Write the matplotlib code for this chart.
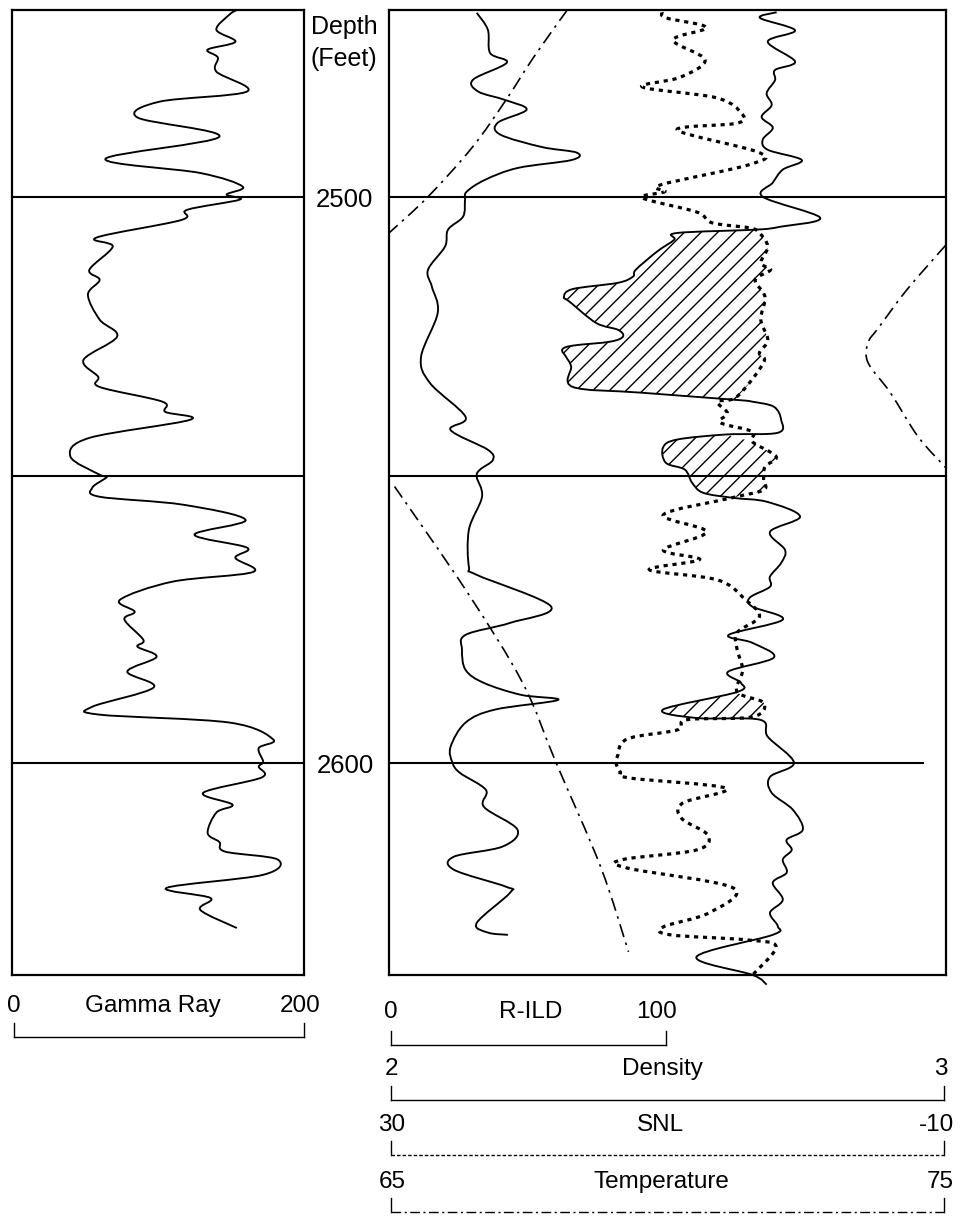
import matplotlib
matplotlib.use("Agg")
import matplotlib.pyplot as plt
from matplotlib.path import Path
from matplotlib.patches import PathPatch

plt.rcParams['font.family'] = ['Liberation Sans', 'DejaVu Sans']
plt.rcParams['hatch.linewidth'] = 1.0

# ---------------- data ----------------
depth_range = (2467.0, 2637.5)          # top, bottom (feet)
depth_markers = [2500, 2549.3, 2600]
depth_tick_labels = {2500: '2500', 2600: '2600'}

gr_scale = (0, 200)
ild_scale = (0, 100)
dens_scale = (2, 3)
snl_scale = (30, -10)
temp_scale = (65, 75)

gr_depth = [2467.0, 2467.8, 2470.5, 2472.6, 2474.0, 2475.4, 2477.9, 2481.4, 2483.2, 2486.0,
            2489.4, 2493.3, 2495.8, 2498.2, 2499.6, 2500.5, 2502.3, 2504.1, 2507.2, 2508.8,
            2512.9, 2514.7, 2517.3, 2521.7, 2524.7, 2528.8, 2531.8, 2533.6, 2536.2, 2538.0,
            2539.4, 2542.6, 2545.9, 2549.1, 2549.5, 2551.4, 2553.0, 2554.4, 2557.1, 2559.7,
            2562.0, 2563.8, 2566.3, 2568.0, 2571.2, 2573.3, 2574.7, 2578.3, 2579.5, 2581.3,
            2583.9, 2586.7, 2590.1, 2591.5, 2592.9, 2595.9, 2597.4, 2599.8, 2600.7, 2602.6,
            2605.3, 2607.4, 2608.8, 2612.4, 2614.0, 2615.7, 2617.1, 2619.8, 2622.1, 2623.9,
            2626.0, 2629.2]
gr_value = [154, 149, 140, 153, 134, 141, 140, 161, 101, 86,
            142, 64, 129, 158, 147, 156, 120, 116, 58, 69,
            53, 60, 52, 60, 72, 49, 59, 60, 103, 105,
            122, 53, 40, 60, 65, 55, 60, 117, 160, 125,
            161, 153, 165, 110, 74, 84, 77, 90, 86, 99,
            79, 97, 55, 60, 149, 179, 169, 172, 169, 171,
            131, 151, 140, 134, 142, 146, 182, 172, 106, 136,
            129, 154]

ild_depth = [2467.5, 2470.5, 2474.6, 2476.3, 2479.3, 2481.4, 2482.9, 2484.6, 2486.9, 2489.0,
             2491.2, 2492.2, 2493.5, 2494.9, 2497.0, 2499.1, 2500.5, 2503.5, 2505.8, 2508.8,
             2512.9, 2515.9, 2520.5, 2528.3, 2532.9, 2538.9, 2541.2, 2544.7, 2546.5, 2548.2,
             2549.5, 2553.0, 2558.8, 2565.4, 2566.8, 2572.4, 2575.3, 2577.4, 2580.0, 2583.6,
             2585.9, 2588.0, 2588.9, 2590.6, 2592.9, 2597.2, 2600.0, 2601.8, 2604.8, 2607.8,
             2611.8, 2614.8, 2616.6, 2618.9, 2621.9, 2623.0, 2628.3, 2630.0, 2630.4]
ild_value = [31.5, 35.5, 36.3, 42.3, 30.2, 32.0, 41.7, 49.4, 39.1, 39.9,
             54.8, 67.4, 65.6, 46.3, 34.5, 27.9, 27.3, 26.6, 21.2, 20.1,
             14.0, 15.4, 17.5, 11.5, 14.7, 27.5, 22.1, 35.5, 37.3, 32.7,
             31.5, 33.4, 28.7, 28.7, 31.5, 58.2, 43.4, 27.5, 26.2, 27.5,
             34.1, 47.4, 60.7, 38.1, 27.5, 22.1, 22.8, 25.5, 34.8, 34.1,
             46.1, 40.8, 23.3, 23.3, 42.0, 43.4, 31.5, 35.5, 42.7]

dens_depth = [2467.4, 2468.4, 2470.6, 2472.6, 2476.1, 2477.6, 2479.4, 2481.7, 2483.8, 2485.9,
              2487.8, 2489.9, 2491.7, 2493.5, 2495.2, 2497.5, 2500.0, 2503.7, 2505.3, 2505.8,
              2506.4, 2507.6, 2509.7, 2512.9, 2514.1, 2515.2, 2516.3, 2517.7, 2518.6, 2522.3,
              2523.5, 2524.7, 2525.6, 2526.3, 2527.0, 2528.3, 2530.0, 2533.6, 2534.6, 2535.9,
              2536.2, 2537.1, 2539.4, 2541.7, 2542.0, 2542.9, 2544.3, 2547.0, 2548.2, 2550.5,
              2552.3, 2553.2, 2553.9, 2556.5, 2559.2, 2562.4, 2564.7, 2567.1, 2568.9, 2570.8,
              2572.4, 2574.7, 2577.4, 2578.8, 2581.4, 2583.9, 2585.9, 2587.5, 2590.6, 2592.1,
              2592.4, 2595.4, 2600.0, 2602.5, 2605.3, 2608.3, 2611.8, 2613.6, 2615.4, 2617.1,
              2619.4, 2621.2, 2624.2, 2626.5, 2628.9, 2630.4, 2634.3, 2637.5, 2639.2]
dens_value = [2.696, 2.666, 2.729, 2.680, 2.729, 2.693, 2.693, 2.678, 2.687, 2.669,
              2.689, 2.671, 2.680, 2.741, 2.707, 2.689, 2.671, 2.774, 2.702, 2.660,
              2.517, 2.512, 2.481, 2.443, 2.438, 2.411, 2.330, 2.314, 2.325, 2.372,
              2.411, 2.420, 2.397, 2.330, 2.311, 2.318, 2.327, 2.330, 2.451, 2.625,
              2.652, 2.691, 2.704, 2.698, 2.605, 2.517, 2.492, 2.497, 2.531, 2.544,
              2.564, 2.618, 2.679, 2.738, 2.684, 2.711, 2.704, 2.684, 2.684, 2.648,
              2.652, 2.707, 2.610, 2.652, 2.691, 2.609, 2.632, 2.625, 2.492, 2.553,
              2.666, 2.680, 2.727, 2.684, 2.687, 2.725, 2.743, 2.714, 2.723, 2.707,
              2.714, 2.689, 2.707, 2.684, 2.698, 2.689, 2.552, 2.653, 2.678]

snl_depth = [2467.4, 2468.4, 2470.1, 2472.3, 2475.8, 2478.9, 2480.6, 2482.5, 2485.2, 2487.0,
             2488.2, 2492.2, 2494.3, 2497.9, 2499.1, 2500.2, 2502.7, 2504.6, 2505.5, 2506.4,
             2508.8, 2511.7, 2512.9, 2514.7, 2517.7, 2521.7, 2525.3, 2527.6, 2529.3, 2535.3,
             2536.2, 2538.2, 2539.9, 2541.5, 2543.3, 2545.9, 2547.7, 2550.0, 2551.8, 2553.2,
             2556.2, 2559.2, 2562.4, 2564.1, 2565.9, 2567.7, 2571.2, 2574.2, 2577.0, 2580.0,
             2583.6, 2587.5, 2589.4, 2591.9, 2592.4, 2594.2, 2595.8, 2598.9, 2600.0, 2601.6,
             2602.7, 2604.5, 2607.1, 2609.8, 2612.8, 2615.4, 2617.1, 2618.6, 2622.1, 2626.5,
             2629.0, 2630.4, 2631.3, 2632.5, 2637.5]
snl_value = [10.4, 10.1, 7.2, 9.6, 7.3, 9.1, 11.8, 6.5, 4.7, 5.0,
             9.3, 3.4, 4.1, 10.5, 10.2, 11.8, 7.9, 6.8, 4.1, 3.4,
             2.8, 3.3, 2.6, 3.7, 3.0, 3.3, 2.8, 3.4, 3.1, 5.0,
             6.4, 5.7, 6.2, 3.9, 3.9, 2.2, 3.0, 3.1, 3.1, 5.4,
             10.3, 7.2, 10.3, 7.7, 11.3, 6.4, 4.4, 3.4, 5.0, 5.0,
             4.6, 5.0, 3.1, 3.9, 8.6, 9.3, 12.9, 13.6, 13.7, 13.4,
             12.7, 5.8, 8.9, 9.0, 7.1, 7.9, 13.2, 12.9, 5.3, 7.0,
             10.3, 9.8, 4.3, 2.2, 3.9]

# temperature is drawn on a wrapping scale: three visible segments
temp_seg_depths = [[2467.0, 2475.3, 2482.9, 2491.2, 2500.0, 2506.4],
                   [2508.5, 2516.4, 2523.0, 2525.8, 2529.3, 2534.6, 2542.4, 2547.9],
                   [2551.2, 2569.8, 2585.9, 2600.0, 2618.4, 2633.4]]
temp_seg_values = [[68.2, 67.6, 67.1, 66.5, 65.7, 65.0],
                   [75.0, 74.3, 73.8, 73.6, 73.6, 74.0, 74.5, 75.0],
                   [65.1, 66.4, 67.4, 68.0, 68.8, 69.3]]

# depth intervals of density/neutron crossover (hatched)
crossover_zones = [(2505.5, 2536.0), (2541.8, 2553.3), (2587.4, 2592.2)]

# ---------------- helpers ----------------
FIG_W, FIG_H = 964, 1218
fig = plt.figure(figsize=(FIG_W / 100, FIG_H / 100), dpi=100)

LEFT_BOX = (12, 10, 304, 975)
RIGHT_BOX = (389, 10, 946, 975)
ILD_BOX = (389, 10, 389 + (946 - 389) / 2, 975)


def add_px_axes(box, **kw):
    x0, y0, x1, y1 = box
    return fig.add_axes([x0 / FIG_W, 1 - y1 / FIG_H, (x1 - x0) / FIG_W, (y1 - y0) / FIG_H], **kw)


def clean(ax, frame):
    ax.set_xticks([])
    ax.set_yticks([])
    for s in ax.spines.values():
        s.set_visible(frame)
        s.set_linewidth(1.6)
    ax.patch.set_alpha(0)


def bezier_segments(xs, ys, k=1.0 / 6.0):
    """Cubic Bezier pieces passing through every given point (Catmull-Rom)."""
    n = len(xs)
    segs = []
    for i in range(n - 1):
        x0, y0 = xs[i], ys[i]
        x1, y1 = xs[i + 1], ys[i + 1]
        xm, ym = (xs[i - 1], ys[i - 1]) if i > 0 else (x0, y0)
        xp, yp = (xs[i + 2], ys[i + 2]) if i + 2 < n else (x1, y1)
        c1 = (x0 + (x1 - xm) * k, y0 + (y1 - ym) * k)
        c2 = (x1 - (xp - x0) * k, y1 - (yp - y0) * k)
        segs.append(((x0, y0), c1, c2, (x1, y1)))
    return segs


def curve_path(segs):
    verts = [segs[0][0]]
    codes = [Path.MOVETO]
    for s in segs:
        verts += [s[1], s[2], s[3]]
        codes += [Path.CURVE4] * 3
    return Path(verts, codes)


def draw_curve(ax, xs, ys, **kw):
    patch = PathPatch(curve_path(bezier_segments(xs, ys)), fill=False,
                      edgecolor='black', **kw)
    ax.add_patch(patch)
    return patch


LW = 1.35

# Gamma ray track
ax_gr = add_px_axes(LEFT_BOX)
ax_gr.set_xlim(*gr_scale)
ax_gr.set_ylim(depth_range[1], depth_range[0])
clean(ax_gr, True)
draw_curve(ax_gr, gr_value, gr_depth, lw=LW)
for d in depth_markers:
    ax_gr.axhline(d, color='black', lw=1.5)

# Right track: density (base axes), SNL, temperature twins, R-ILD half-width
ax_dens = add_px_axes(RIGHT_BOX)
ax_dens.set_xlim(*dens_scale)
ax_dens.set_ylim(depth_range[1], depth_range[0])
clean(ax_dens, True)

ax_snl = ax_dens.twiny()
ax_snl.set_xlim(*snl_scale)
ax_snl.set_ylim(depth_range[1], depth_range[0])
clean(ax_snl, False)

ax_temp = ax_dens.twiny()
ax_temp.set_xlim(*temp_scale)
ax_temp.set_ylim(depth_range[1], depth_range[0])
clean(ax_temp, False)

ax_ild = add_px_axes(ILD_BOX)
ax_ild.set_xlim(*ild_scale)
ax_ild.set_ylim(depth_range[1], depth_range[0])
clean(ax_ild, False)

right_extent = {2500: 1.0, 2549.3: 1.0, 2600: 0.959}
for d in depth_markers:
    ax_dens.axhline(d, xmin=0, xmax=right_extent[d], color='black', lw=1.5)

draw_curve(ax_ild, ild_value, ild_depth, lw=LW)
draw_curve(ax_dens, dens_value, dens_depth, lw=LW, clip_on=False)
snl_patch = draw_curve(ax_snl, snl_value, snl_depth, lw=2.3, linestyle=(0, (1.3, 1.5)))
snl_patch.set_capstyle('butt')
for dd, tv in zip(temp_seg_depths, temp_seg_values):
    draw_curve(ax_temp, tv, dd, lw=1.2, linestyle=(0, (8, 3.5, 1.5, 3.5)))


def snl_to_dens(v):
    s0, s1 = snl_scale
    d0, d1 = dens_scale
    return d0 + (s0 - v) / (s0 - s1) * (d1 - d0)


dens_segs = bezier_segments(dens_value, dens_depth)
snl_conv = [snl_to_dens(v) for v in snl_value]
snl_segs = bezier_segments(snl_conv, snl_depth)

for a, b in crossover_zones:
    di = [i for i, d in enumerate(dens_depth) if a <= d <= b]
    si = [i for i, d in enumerate(snl_depth) if a <= d <= b]
    i0, i1 = di[0], di[-1]
    j0, j1 = si[0], si[-1]
    verts = [(dens_value[i0], dens_depth[i0])]
    codes = [Path.MOVETO]
    for s in dens_segs[i0:i1]:
        verts += [s[1], s[2], s[3]]
        codes += [Path.CURVE4] * 3
    verts.append((snl_conv[j1], snl_depth[j1]))
    codes.append(Path.LINETO)
    for s in reversed(snl_segs[j0:j1]):
        verts += [s[2], s[1], s[0]]
        codes += [Path.CURVE4] * 3
    verts.append(verts[0])
    codes.append(Path.CLOSEPOLY)
    ax_dens.add_patch(PathPatch(Path(verts, codes), facecolor='none',
                                edgecolor='black', hatch='//', lw=0))

# ---------------- annotation overlay ----------------
ov = fig.add_axes([0, 0, 1, 1])
ov.set_xlim(0, FIG_W)
ov.set_ylim(FIG_H, 0)
ov.axis('off')
ov.patch.set_visible(False)

FS = 17.5
ov.text(344, 34, 'Depth', ha='center', va='baseline', fontsize=18)
ov.text(344, 66, '(Feet)', ha='center', va='baseline', fontsize=18)
for d, lab in depth_tick_labels.items():
    ax_gr.text(1.14, d + 0.6, lab, transform=ax_gr.get_yaxis_transform(),
               ha='center', va='center', fontsize=18.5, clip_on=False)

# scale legends
legends = [
    (str(gr_scale[0]), 'Gamma Ray', str(gr_scale[1]), 14, 304, 1012, 1037, '-', (14, 153, 300)),
    (str(ild_scale[0]), 'R-ILD', str(ild_scale[1]), 391, 666, 1018, 1045, '-', (391, 531, 656)),
    (str(dens_scale[0]), 'Density', str(dens_scale[1]), 391, 944, 1075, 1100, '-', (391, 662, 941)),
    (str(snl_scale[0]), 'SNL', str(snl_scale[1]), 391, 944, 1131, 1155, (0, (2.5, 1.5)), (392, 660, 937)),
    (str(temp_scale[0]), 'Temperature', str(temp_scale[1]), 391, 944, 1188, 1212,
     (0, (7, 2.5, 1.5, 2.5)), (392, 661, 940)),
]
for lo, name, hi, x0, x1, ty, by, ls, (lx, cx, rx) in legends:
    ov.text(lx, ty, lo, ha='center', va='baseline', fontsize=FS)
    ov.text(cx, ty, name, ha='center', va='baseline', fontsize=FS)
    ov.text(rx, ty, hi, ha='center', va='baseline', fontsize=FS)
    ov.plot([x0, x0], [by - 14, by], color='black', lw=1.0)
    ov.plot([x1, x1], [by - 14, by], color='black', lw=1.0)
    ov.plot([x0, x1], [by, by], color='black', lw=1.0, linestyle=ls)

fig.savefig('out.png', dpi=100)
